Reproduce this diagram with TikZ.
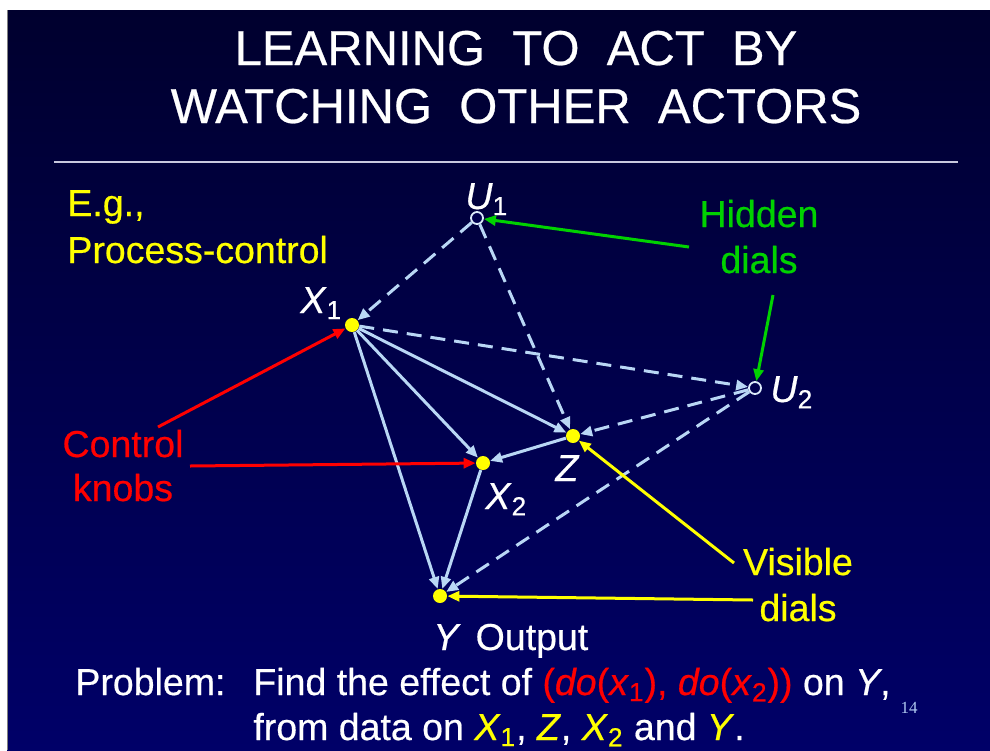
\documentclass[tikz,border=0pt]{standalone}
\usepackage{fontspec}
\setmainfont{Liberation Sans}[FakeBold=0.5]
\newfontfamily\pagenumfont{Liberation Serif}
\usetikzlibrary{arrows.meta}
\definecolor{slidetop}{RGB}{0,0,46}
\definecolor{slidebot}{RGB}{0,0,104}
\definecolor{edgeblue}{RGB}{185,215,245}
\definecolor{dialyellow}{RGB}{255,255,0}
\definecolor{hiddengreen}{RGB}{0,210,0}
\definecolor{knobred}{RGB}{255,0,0}
\definecolor{rulegray}{RGB}{200,200,222}
\definecolor{pagenumblue}{RGB}{175,200,240}
\newcommand{\vsub}[2]{\textit{#1}\textsubscript{#2}}
\tikzset{
  dial/.style={circle,fill=dialyellow,inner sep=0pt,minimum size=7pt},
  hidden/.style={circle,draw=edgeblue!50!white,fill=slidetop!45!slidebot,line width=0.9pt,inner sep=0pt,minimum size=6pt},
  link/.style={edgeblue,line width=1.5pt,-{Triangle[length=6pt,width=5pt]}},
  hidlink/.style={link,dash pattern=on 7.5pt off 4.5pt},
  pointer/.style={line width=1.5pt,-{Triangle[length=6pt,width=5pt]}},
  txt/.style={font=\fontsize{18.75}{22}\selectfont,inner sep=0pt},
  ttl/.style={font=\fontsize{24.5}{29}\selectfont,white,inner sep=0pt,anchor=base},
}
\begin{document}
\begin{tikzpicture}[x=0.5pt,y=-0.5pt,line join=round]
  \useasboundingbox (0,0) rectangle (990,750);
  \fill[white] (0,0) rectangle (990,750);
  \shade[top color=slidetop,bottom color=slidebot] (7,10) rectangle (990,750);
  \draw[gray,line width=0.5pt] (7,10) -- (7,750);
  % title
  \node[ttl] (ttla) at (516,65) {LEARNING\ \ TO\ \ ACT\ \ BY};
  \node[ttl] (ttlb) at (516,123) {WATCHING\ \ OTHER\ \ ACTORS};
  \draw[rulegray,line width=1pt] (54,162) -- (958,162);
  % dials
  \node[hidden] (U1) at (477,218) {};
  \node[dial] (X1) at (352,325) {};
  \node[hidden] (U2) at (755,388) {};
  \node[dial] (Z) at (573,436) {};
  \node[dial] (X2) at (483,463) {};
  \node[dial] (Y) at (440,596) {};
  \node[txt,white,anchor=base west] (U1lab) at (465,209) {\vsub{U}{1}};
  \node[txt,white,anchor=base west] (X1lab) at (300,313) {\vsub{X}{1}};
  \node[txt,white,anchor=base west] (U2lab) at (770,402) {\vsub{U}{2}};
  \node[txt,white,anchor=base west] (Zlab) at (555,481) {\textit{Z}};
  \node[txt,white,anchor=base west] (X2lab) at (485,509) {\vsub{X}{2}};
  \node[txt,white,anchor=base west] (Ylab) at (433,650) {\textit{Y}\hspace{0.4em}Output};
  % causal links
  \draw[hidlink] (U1) -- (X1);
  \draw[hidlink] (U1) -- (Z);
  \draw[hidlink] (X1) -- (U2);
  \draw[hidlink] (U2) -- (Z);
  \draw[hidlink] (U2) -- (Y);
  \draw[link] (X1) -- (Z);
  \draw[link] (X1) -- (X2);
  \draw[link] (X1) -- (Y);
  \draw[link] (Z) -- (X2);
  \draw[link] (X2) -- (Y);
  % notes
  \node[txt,dialyellow,anchor=base west] (eg) at (67,216) {E.g.,};
  \node[txt,dialyellow,anchor=base west] (proc) at (67,263) {Process-control};
  \node[txt,hiddengreen,anchor=base] (hidA) at (759,227) {Hidden};
  \node[txt,hiddengreen,anchor=base] (hidB) at (759,273) {dials};
  \node[txt,knobred,anchor=base] (knobA) at (123,457) {Control};
  \node[txt,knobred,anchor=base] (knobB) at (123,501) {knobs};
  \node[txt,dialyellow,anchor=base] (visA) at (798,575) {Visible};
  \node[txt,dialyellow,anchor=base] (visB) at (798,621) {dials};
  \coordinate (gA) at (689,247); \coordinate (gB) at (773,295);
  \coordinate (rA) at (158,427); \coordinate (rB) at (190,466);
  \coordinate (yA) at (734,563); \coordinate (yB) at (753,600);
  \draw[pointer,hiddengreen] (gA) -- (U1);
  \draw[pointer,hiddengreen] (gB) -- (U2);
  \draw[pointer,knobred] (rA) -- (X1);
  \draw[pointer,knobred] (rB) -- (X2);
  \draw[pointer,dialyellow] (yA) -- (Z);
  \draw[pointer,dialyellow] (yB) -- (Y);
  % problem statement
  \node[txt,white,anchor=base west] (prob) at (75,695) {Problem:};
  \node[txt,white,anchor=base west] (probA) at (253,695) {Find the effect of \textcolor{knobred}{(\textit{do}(\vsub{x}{1}), \textit{do}(\vsub{x}{2}))} on \textit{Y},};
  \node[txt,white,anchor=base west] (probB) at (253,740) {from data on \textcolor{dialyellow}{\vsub{X}{1}}, \textcolor{dialyellow}{\textit{Z}}, \textcolor{dialyellow}{\vsub{X}{2}} and \textcolor{dialyellow}{\textit{Y}}.};
  \node[font=\pagenumfont\fontsize{8.5}{10}\selectfont,pagenumblue,inner sep=0pt] (pg) at (909,708) {14};
\end{tikzpicture}
\end{document}
